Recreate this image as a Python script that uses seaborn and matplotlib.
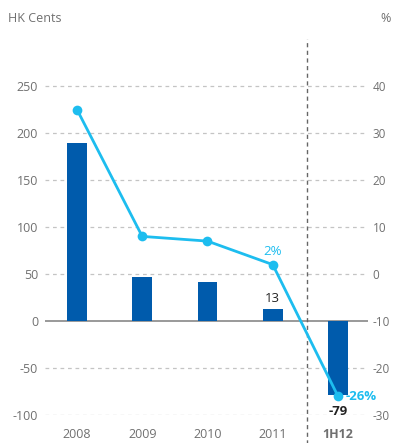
import matplotlib
matplotlib.use("Agg")
import matplotlib.pyplot as plt
import seaborn as sns
import pandas as pd

categories = ["2008", "2009", "2010", "2011", "1H12"]
cents = [189, 47, 42, 13, -79]
pct = [35, 8, 7, 2, -26]
left_ticks = [-100, -50, 0, 50, 100, 150, 200, 250]
right_ticks = [-30, -20, -10, 0, 10, 20, 30, 40]

BAR = "#005BAC"
LINE = "#1DBDEF"
GRAY = "#707070"

sns.set_style("white")
plt.rcParams['font.family'] = ['Open Sans', 'DejaVu Sans']
plt.rcParams['axes.unicode_minus'] = False

df = pd.DataFrame({"cat": categories, "cents": cents, "pct": pct})

fig = plt.figure(figsize=(3.93, 4.43), dpi=100)
ax = fig.add_axes([45/393, (443-415)/443, (368-45)/393, (415-39)/443])

sns.barplot(data=df, x="cat", y="cents", color=BAR, width=0.3, ax=ax,
            saturation=1, linewidth=0, edgecolor="none", zorder=3)
ax.set_xlim(-0.49, 4.46)
ax.set_ylim(-100, 300)
ax.set_yticks(left_ticks)
for t in left_ticks:
    if t == 0:
        ax.axhline(t, color="#888888", lw=1.2, zorder=2)
    else:
        ax.axhline(t, color="#c4c4c4", lw=0.9, ls=(0, (3, 3)), zorder=1)
for s in ax.spines.values():
    s.set_visible(False)
ax.set_xlabel("")
ax.set_ylabel("")
ax.tick_params(axis="y", length=0, pad=5, labelsize=9, labelcolor=GRAY)
ax.tick_params(axis="x", length=0, pad=9, labelsize=9, labelcolor=GRAY)
for lab in ax.get_xticklabels():
    if lab.get_text() == "1H12":
        lab.set_fontweight("bold")

ax2 = ax.twinx()
ax2.set_position(ax.get_position())
sns.lineplot(data=df, x="cat", y="pct", color=LINE, lw=2, marker="o",
             markersize=7, markeredgewidth=0, ax=ax2, zorder=4, sort=False)
ax2.set_ylim(-30, 50)
ax2.set_yticks(right_ticks)
ax2.set_xlim(-0.49, 4.46)
for s in ax2.spines.values():
    s.set_visible(False)
ax2.set_xlabel("")
ax2.set_ylabel("")
ax2.tick_params(axis="y", length=0, pad=3.5, labelsize=8.5, labelcolor=GRAY)

# vertical dashed separator
ax.plot([3.52, 3.52], [-0.08, 1.0], transform=ax.get_xaxis_transform(),
        color="#666666", lw=1, ls=(0, (3, 2.5)), clip_on=False, zorder=5)

# annotations
ax.text(3, cents[3] + 4, "13", ha="center", va="bottom", fontsize=9.5,
        color="#222222")
ax.text(4, cents[4] - 10, "-79", ha="center", va="top", fontsize=9.5,
        color="#222222", fontweight="bold")
ax2.text(3, pct[3] + 1.5, "2%", ha="center", va="bottom", fontsize=9.5,
         color=LINE)
ax2.text(4.12, pct[4], "-26%", ha="left", va="center", fontsize=9.5,
         color=LINE, fontweight="bold")

fig.text(8/393, 1 - 18/443, "HK Cents", ha="left", va="center", fontsize=9,
         color=GRAY)
fig.text(386/393, 1 - 18/443, "%", ha="center", va="center", fontsize=9,
         color=GRAY)

fig.savefig("out.png", dpi=100)
